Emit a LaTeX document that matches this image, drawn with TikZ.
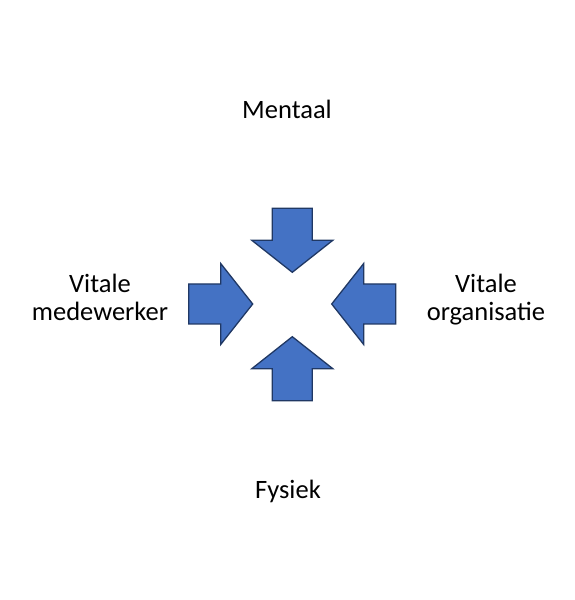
\documentclass[tikz,border=0pt]{standalone}
\usepackage{fontspec}
\setmainfont{Carlito}
\usepackage{xcolor}
\usetikzlibrary{positioning}
\definecolor{arrowfill}{RGB}{68,114,196}
\definecolor{arrowline}{RGB}{32,56,100}

\begin{document}
\begin{tikzpicture}[x=1pt, y=1pt,
    label/.style={font=\fontsize{26.5}{28}\selectfont, align=center, anchor=base, inner sep=0pt},
    bigarrow/.style={fill=arrowfill, draw=arrowline, line width=1.3pt, line join=miter}]
  \useasboundingbox (0,0) rectangle (575,600);
  % four arrows pointing at the centre
  \foreach \x/\y/\a in {252.7/296/0, 331.7/296/180, 292.3/327.7/-90, 292.3/263.3/90} {
    \draw[bigarrow, shift={(\x,\y)}, rotate=\a]
      (-64,20) -- (-32,20) -- (-32,40.5) -- (0,0) -- (-32,-40.5) -- (-32,-20) -- (-64,-20) -- cycle;
  }
  \node[label] (mentaal) at (287,481) {Mentaal};
  \node[label] (fysiek) at (288,101.7) {Fysiek};
  \node[label] (medewerker) at (100,279) {Vitale\\medewerker};
  \node[label] (organisatie) at (486,279) {Vitale\\organisatie};
\end{tikzpicture}
\end{document}
